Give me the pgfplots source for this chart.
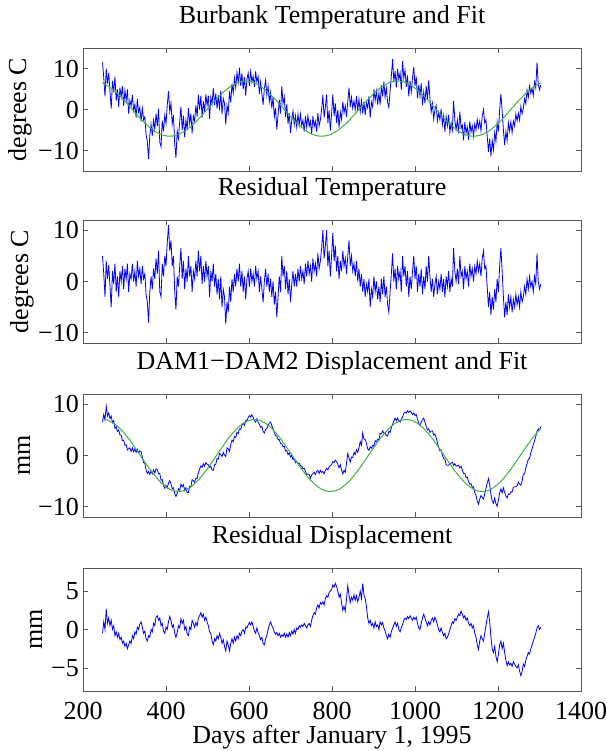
\documentclass[border=0pt]{standalone}
\usepackage{fontspec}
\setmainfont{Liberation Serif}
\usepackage{pgfplots}
\usepackage{pgfplotstable}
\pgfplotsset{compat=1.18}

\definecolor{fitgreen}{rgb}{0.25,0.70,0.25}
\definecolor{framegray}{gray}{0.35}

% day, temperature fit/residual/raw, displacement fit/residual/raw
\pgfplotstableread{
day fT rT aT fD rD aD
247 6.5 5.0 11.5 7.0 -0.5 6.5
250 6.3 1.5 7.8 7.0 1.0 8.0
253 6.2 -3.0 3.2 7.0 0.0 7.0
256 6.0 4.0 10.0 6.9 2.7 9.6
259 5.8 0.5 6.3 6.9 0.8 7.7
262 5.7 3.2 8.9 6.8 1.5 8.3
265 5.4 -1.0 4.4 6.7 0.5 7.2
268 5.2 -5.0 0.2 6.5 1.2 7.7
271 5.0 2.0 7.0 6.4 0.0 6.4
274 4.7 -0.5 4.2 6.3 0.5 6.8
277 4.5 3.5 8.0 6.1 -0.8 5.3
280 4.2 -2.0 2.2 5.9 -0.3 5.6
283 3.9 1.0 4.9 5.7 -1.0 4.7
286 3.6 -3.0 0.6 5.5 -0.5 5.0
289 3.3 2.0 5.3 5.3 -1.3 4.0
292 3.0 0.0 3.0 5.0 -1.0 4.0
295 2.7 3.0 5.7 4.7 -1.8 2.9
298 2.4 -1.5 0.9 4.5 -1.5 3.0
301 2.1 2.5 4.6 4.2 -2.2 2.0
304 1.7 0.5 2.2 3.9 -1.8 2.1
307 1.4 3.5 4.9 3.6 -2.5 1.1
310 1.0 -2.0 -1.0 3.3 -2.0 1.3
313 0.7 1.5 2.2 3.0 -1.5 1.5
316 0.4 0.5 0.9 2.6 -1.8 0.8
319 0.0 3.5 3.5 2.3 -0.8 1.5
322 -0.3 0.0 -0.3 1.9 -1.2 0.7
325 -0.7 2.0 1.3 1.6 -0.3 1.3
328 -1.0 -1.0 -2.0 1.2 -0.6 0.6
331 -1.4 4.0 2.6 0.9 0.3 1.2
334 -1.7 1.0 -0.7 0.5 0.0 0.5
337 -2.0 2.5 0.5 0.2 0.7 0.9
340 -2.4 -0.5 -2.9 -0.2 1.0 0.8
343 -2.7 3.0 0.3 -0.6 0.3 -0.3
346 -3.0 0.5 -2.5 -0.9 -0.5 -1.4
349 -3.3 1.5 -1.8 -1.3 -0.2 -1.5
352 -3.6 -2.5 -6.1 -1.6 -1.2 -2.8
355 -3.8 -4.0 -7.8 -2.0 -1.5 -3.5
358 -4.1 -8.0 -12.1 -2.3 -0.8 -3.1
361 -4.4 -2.0 -6.4 -2.7 -1.0 -3.7
364 -4.6 1.0 -3.6 -3.0 0.0 -3.0
367 -4.9 -1.5 -6.4 -3.3 -0.3 -3.6
370 -5.1 2.5 -2.6 -3.6 0.8 -2.8
373 -5.3 0.5 -4.8 -3.9 0.5 -3.4
376 -5.5 4.5 -1.0 -4.2 1.6 -2.6
379 -5.6 1.5 -4.1 -4.5 1.8 -2.7
382 -5.8 6.0 0.2 -4.8 1.2 -3.6
385 -6.0 -2.0 -8.0 -5.0 1.5 -3.5
388 -6.1 -3.0 -9.1 -5.3 0.5 -4.8
391 -6.2 3.5 -2.7 -5.5 0.8 -4.7
394 -6.3 1.0 -5.3 -5.7 -0.2 -5.9
397 -6.4 5.0 -1.4 -5.9 -0.5 -6.4
400 -6.4 3.0 -3.4 -6.1 0.3 -5.8
403 -6.5 7.5 1.0 -6.3 0.0 -6.3
406 -6.5 11.0 4.5 -6.4 1.0 -5.4
409 -6.5 6.0 -0.5 -6.6 1.7 -4.9
412 -6.5 8.0 1.5 -6.7 1.2 -5.5
415 -6.5 3.0 -3.5 -6.8 0.3 -6.5
418 -6.4 5.0 -1.4 -6.9 0.6 -6.3
421 -6.4 -2.0 -8.4 -6.9 -0.5 -7.4
424 -6.3 -5.5 -11.8 -7.0 -1.0 -8.0
427 -6.2 1.0 -5.2 -7.0 -0.4 -7.4
430 -6.1 -1.0 -7.1 -7.0 0.5 -6.5
433 -6.0 3.0 -3.0 -7.0 0.2 -6.8
436 -5.8 6.5 0.7 -7.0 1.4 -5.6
439 -5.6 0.5 -5.1 -6.9 0.8 -6.1
442 -5.5 4.0 -1.5 -6.9 1.2 -5.7
445 -5.3 -1.5 -6.8 -6.8 0.0 -6.8
448 -5.1 2.5 -2.6 -6.7 0.4 -6.3
451 -4.9 0.0 -4.9 -6.6 -0.6 -7.2
454 -4.6 5.0 0.4 -6.4 -0.8 -7.2
457 -4.4 1.0 -3.4 -6.3 0.3 -6.0
460 -4.1 3.0 -1.1 -6.1 0.0 -6.1
463 -3.8 -2.0 -5.8 -5.9 1.2 -4.7
466 -3.6 2.0 -1.6 -5.7 0.8 -4.9
469 -3.3 0.5 -2.8 -5.5 0.3 -5.2
472 -3.0 4.0 1.0 -5.3 0.9 -4.4
475 -2.7 1.0 -1.7 -5.0 0.5 -4.5
478 -2.4 6.0 3.6 -4.8 1.5 -3.3
481 -2.0 2.0 0.0 -4.5 1.8 -2.7
484 -1.7 5.0 3.3 -4.2 2.2 -2.0
487 -1.4 -0.5 -1.9 -3.9 1.6 -2.3
490 -1.0 3.0 2.0 -3.6 2.0 -1.6
493 -0.7 0.0 -0.7 -3.3 1.2 -2.1
496 -0.3 4.0 3.7 -3.0 1.6 -1.4
499 0.0 1.0 1.0 -2.7 1.0 -1.7
502 0.4 3.0 3.4 -2.3 0.5 -1.8
505 0.7 -3.0 -2.3 -2.0 -0.3 -2.3
508 1.0 2.0 3.0 -1.6 -0.5 -2.1
511 1.4 0.0 1.4 -1.3 -1.5 -2.8
514 1.7 3.5 5.2 -0.9 -2.0 -2.9
517 2.1 -1.0 1.1 -0.6 -1.2 -1.8
520 2.4 1.5 3.9 -0.2 -1.5 -1.7
523 2.7 -2.5 0.2 0.2 -0.8 -0.6
526 3.0 0.5 3.5 0.5 -1.2 -0.7
529 3.3 -3.5 -0.2 0.9 -0.5 0.4
532 3.6 1.0 4.6 1.2 -1.0 0.2
535 3.9 -5.0 -1.1 1.6 -1.8 -0.2
538 4.2 -1.5 2.7 1.9 -1.3 0.6
541 4.5 -3.0 1.5 2.3 -2.2 0.1
544 4.7 -8.3 -3.6 2.6 -2.8 -0.2
547 5.0 -4.0 1.0 3.0 -1.5 1.5
550 5.2 -6.0 -0.8 3.3 -2.0 1.3
553 5.4 -1.0 4.4 3.6 -2.8 0.8
556 5.7 -4.0 1.7 3.9 -1.8 2.1
559 5.8 0.5 6.3 4.2 -1.2 3.0
562 6.0 -2.0 4.0 4.5 -1.8 2.7
565 6.2 1.5 7.7 4.7 -1.0 3.7
568 6.3 -1.0 5.3 5.0 -1.5 3.5
571 6.5 2.5 9.0 5.3 -0.8 4.5
574 6.6 0.0 6.6 5.5 -1.2 4.3
577 6.7 3.5 10.2 5.7 -0.5 5.2
580 6.8 -1.0 5.8 5.9 -0.8 5.1
583 6.8 2.0 8.8 6.1 -0.2 5.9
586 6.9 -2.0 4.9 6.3 0.0 6.3
589 6.9 1.0 7.9 6.4 -0.5 5.9
592 6.9 -3.5 3.4 6.5 0.3 6.8
595 6.9 0.5 7.4 6.7 0.2 6.9
598 6.9 2.0 8.9 6.8 0.6 7.4
601 6.8 -1.0 5.8 6.9 0.9 7.8
604 6.8 2.5 9.3 6.9 0.6 7.5
607 6.7 0.0 6.7 7.0 1.0 8.0
610 6.6 1.5 8.1 7.0 0.4 7.4
613 6.5 -1.0 5.5 7.0 -0.2 6.8
616 6.3 3.0 9.3 7.0 -0.5 6.5
619 6.2 0.5 6.7 7.0 0.2 7.2
622 6.0 2.0 8.0 6.9 -0.4 6.5
625 5.8 -2.0 3.8 6.9 -0.8 6.1
628 5.7 1.0 6.7 6.8 -1.3 5.5
631 5.4 -1.5 3.9 6.7 -1.0 5.7
634 5.2 -4.0 1.2 6.5 -1.8 4.7
637 5.0 0.0 5.0 6.4 -2.0 4.4
640 4.7 2.5 7.2 6.3 -1.2 5.1
643 4.5 -1.0 3.5 6.1 -0.8 5.3
646 4.2 1.5 5.7 5.9 0.0 5.9
649 3.9 -2.0 1.9 5.7 0.6 6.3
652 3.6 0.5 4.1 5.5 1.0 6.5
655 3.3 -3.0 0.3 5.3 0.5 5.8
658 3.0 0.0 3.0 5.0 0.2 5.2
661 2.7 -4.5 -1.8 4.7 -0.3 4.4
664 2.4 -2.0 0.4 4.5 -0.6 3.9
667 2.1 -7.0 -4.9 4.2 -0.4 3.8
670 1.7 -3.0 -1.3 3.9 -0.8 3.1
673 1.4 1.0 2.4 3.6 -0.5 3.1
676 1.0 -2.0 -1.0 3.3 -1.0 2.3
679 0.7 5.0 5.7 3.0 -0.7 2.3
682 0.4 1.0 1.4 2.6 -0.9 1.7
685 0.0 3.0 3.0 2.3 -0.5 1.8
688 -0.3 -1.5 -1.8 1.9 -1.0 0.9
691 -0.7 2.0 1.3 1.6 -0.6 1.0
694 -1.0 -2.5 -3.5 1.2 -1.0 0.2
697 -1.4 0.5 -0.9 0.9 -0.4 0.5
700 -1.7 -4.0 -5.7 0.5 -0.8 -0.3
703 -2.0 -0.5 -2.5 0.2 -0.2 0.0
706 -2.4 2.0 -0.4 -0.2 -0.6 -0.8
709 -2.7 -1.0 -3.7 -0.6 0.0 -0.6
712 -3.0 1.5 -1.5 -0.9 -0.5 -1.4
715 -3.3 -1.0 -4.3 -1.3 0.2 -1.1
718 -3.6 2.5 -1.1 -1.6 0.0 -1.6
721 -3.8 0.0 -3.8 -2.0 0.5 -1.5
724 -4.1 3.0 -1.1 -2.3 0.3 -2.0
727 -4.4 0.5 -3.9 -2.7 0.6 -2.1
730 -4.6 2.0 -2.6 -3.0 0.4 -2.6
733 -4.9 -0.5 -5.4 -3.3 0.8 -2.5
736 -5.1 3.5 -1.6 -3.6 0.5 -3.1
739 -5.3 1.0 -4.3 -3.9 0.2 -3.7
742 -5.5 4.0 -1.5 -4.2 0.6 -3.6
745 -5.6 1.5 -4.1 -4.5 0.8 -3.7
748 -5.8 3.0 -2.8 -4.8 0.4 -4.4
751 -6.0 0.0 -6.0 -5.0 1.2 -3.8
754 -6.1 4.5 -1.6 -5.3 1.8 -3.5
757 -6.2 2.0 -4.2 -5.5 2.2 -3.3
760 -6.3 3.5 -2.8 -5.7 2.0 -3.7
763 -6.4 1.0 -5.4 -5.9 2.8 -3.1
766 -6.4 5.5 -0.9 -6.1 3.2 -2.9
769 -6.5 2.5 -4.0 -6.3 2.8 -3.5
772 -6.5 4.0 -2.5 -6.4 3.5 -2.9
775 -6.5 6.5 0.0 -6.6 3.3 -3.3
778 -6.5 10.0 3.5 -6.7 3.6 -3.1
781 -6.5 4.5 -2.0 -6.8 3.2 -3.6
784 -6.4 7.0 0.6 -6.9 4.0 -2.9
787 -6.4 10.0 3.6 -6.9 4.4 -2.5
790 -6.3 3.0 -3.3 -7.0 4.2 -2.8
793 -6.2 6.0 -0.2 -7.0 4.8 -2.2
796 -6.1 1.0 -5.1 -7.0 5.0 -2.0
799 -6.0 5.0 -1.0 -7.0 5.2 -1.8
802 -5.8 9.5 3.7 -7.0 5.8 -1.2
805 -5.6 4.0 -1.6 -6.9 5.5 -1.4
808 -5.5 7.0 1.5 -6.9 6.0 -0.9
811 -5.3 2.0 -3.3 -6.8 5.6 -1.2
814 -5.1 5.0 -0.1 -6.7 5.0 -1.7
817 -4.9 0.5 -4.4 -6.6 4.2 -2.4
820 -4.6 4.0 -0.6 -6.4 4.6 -1.8
823 -4.4 2.0 -2.4 -6.3 3.5 -2.8
826 -4.1 6.0 1.9 -6.1 2.5 -3.6
829 -3.8 3.0 -0.8 -5.9 3.0 -2.9
832 -3.6 4.5 0.9 -5.7 2.4 -3.3
835 -3.3 1.5 -1.8 -5.5 4.0 -1.5
838 -3.0 5.0 2.0 -5.3 5.7 0.4
841 -2.7 8.0 5.3 -5.0 4.5 -0.5
844 -2.4 3.0 0.6 -4.8 3.5 -1.3
847 -2.0 5.0 3.0 -4.5 4.2 -0.3
850 -1.7 2.0 0.3 -4.2 3.8 -0.4
853 -1.4 3.5 2.1 -3.9 4.5 0.6
856 -1.0 1.0 0.0 -3.6 3.8 0.2
859 -0.7 4.0 3.3 -3.3 4.4 1.1
862 -0.3 0.0 -0.3 -3.0 3.6 0.6
865 0.0 2.5 2.5 -2.7 4.2 1.5
868 0.4 -1.0 -0.6 -2.3 5.0 2.7
871 0.7 1.5 2.2 -2.0 4.0 2.0
874 1.0 -2.0 -1.0 -1.6 6.0 4.4
877 1.4 0.5 1.9 -1.3 4.5 3.2
880 1.7 -3.0 -1.3 -0.9 4.0 3.1
883 2.1 -0.5 1.6 -0.6 3.0 2.4
886 2.4 -2.0 0.4 -0.2 1.5 1.3
889 2.7 0.5 3.2 0.2 0.8 1.0
892 3.0 -5.0 -2.0 0.5 1.2 1.7
895 3.3 -1.5 1.8 0.9 0.5 1.4
898 3.6 -3.0 0.6 1.2 0.8 2.0
901 3.9 1.0 4.9 1.6 0.2 1.8
904 4.2 -2.0 2.2 1.9 1.0 2.9
907 4.5 0.0 4.5 2.3 0.4 2.7
910 4.7 -3.5 1.2 2.6 0.6 3.2
913 5.0 -1.0 4.0 3.0 0.0 3.0
916 5.2 -4.0 1.2 3.3 1.0 4.3
919 5.4 0.5 5.9 3.6 0.6 4.2
922 5.7 -2.5 3.2 3.9 0.9 4.8
925 5.8 1.0 6.8 4.2 0.2 4.4
928 6.0 -3.0 3.0 4.5 -0.2 4.3
931 6.2 -1.0 5.2 4.7 -0.8 3.9
934 6.3 -4.5 1.8 5.0 -1.2 3.8
937 6.5 -6.0 0.5 5.3 -0.6 4.7
940 6.6 -2.0 4.6 5.5 -1.0 4.5
943 6.7 1.5 8.2 5.7 -0.3 5.4
946 6.8 5.5 12.3 5.9 0.2 6.1
949 6.8 0.0 6.8 6.1 0.6 6.7
952 6.9 2.5 9.4 6.3 1.0 7.3
955 6.9 -1.5 5.4 6.4 0.4 6.8
958 6.9 3.0 9.9 6.5 0.8 7.3
961 6.9 0.5 7.4 6.7 0.0 6.7
964 6.9 2.0 8.9 6.8 -0.3 6.5
967 6.8 -2.0 4.8 6.9 0.2 7.1
970 6.8 5.0 11.8 6.9 0.6 7.5
973 6.7 1.0 7.7 7.0 1.2 8.2
976 6.6 3.0 9.6 7.0 1.5 8.5
979 6.5 -1.0 5.5 7.0 1.3 8.3
982 6.3 2.0 8.3 7.0 1.7 8.7
985 6.2 -3.0 3.2 7.0 1.4 8.4
988 6.0 1.0 7.0 6.9 1.8 8.7
991 5.8 -1.5 4.3 6.9 1.5 8.4
994 5.7 2.0 7.7 6.8 1.2 8.0
997 5.4 5.0 10.4 6.7 1.6 8.3
1000 5.2 0.5 5.7 6.5 1.3 7.8
1003 5.0 3.0 8.0 6.4 1.6 8.0
1006 4.7 -2.0 2.7 6.3 0.8 7.1
1009 4.5 1.5 6.0 6.1 0.2 6.3
1012 4.2 -1.0 3.2 5.9 0.0 5.9
1015 3.9 2.5 6.4 5.7 0.8 6.5
1018 3.6 -2.5 1.1 5.5 1.5 7.0
1021 3.3 1.0 4.3 5.3 2.0 7.3
1024 3.0 -1.5 1.5 5.0 1.5 6.5
1027 2.7 3.0 5.7 4.7 1.0 5.7
1030 2.4 0.0 2.4 4.5 0.5 5.0
1033 2.1 5.0 7.1 4.2 1.0 5.2
1036 1.7 1.0 2.7 3.9 0.6 4.5
1039 1.4 -2.0 -0.6 3.6 1.2 4.8
1042 1.0 0.5 1.5 3.3 1.5 4.8
1045 0.7 -3.0 -2.3 3.0 1.0 4.0
1048 0.4 -0.5 -0.1 2.6 1.6 4.2
1051 0.0 1.0 1.0 2.3 1.2 3.5
1054 -0.3 -2.5 -2.8 1.9 0.6 2.5
1057 -0.7 0.0 -0.7 1.6 0.0 1.6
1060 -1.0 -1.5 -2.5 1.2 -0.3 0.9
1063 -1.4 1.5 0.1 0.9 0.2 1.1
1066 -1.7 -2.0 -3.7 0.5 -0.4 0.1
1069 -2.0 0.5 -1.5 0.2 -0.8 -0.6
1072 -2.4 -3.0 -5.4 -0.2 -0.5 -0.7
1075 -2.7 1.0 -1.7 -0.6 -1.2 -1.8
1078 -3.0 -1.0 -4.0 -0.9 -1.0 -1.9
1081 -3.3 2.0 -1.3 -1.3 -0.6 -1.9
1084 -3.6 -2.0 -5.6 -1.6 0.0 -1.6
1087 -3.8 0.5 -3.3 -2.0 0.5 -1.5
1090 -4.1 -1.0 -5.1 -2.3 1.0 -1.3
1093 -4.4 6.5 2.1 -2.7 0.8 -1.9
1096 -4.6 2.0 -2.6 -3.0 1.4 -1.6
1099 -4.9 0.0 -4.9 -3.3 1.2 -2.1
1102 -5.1 2.5 -2.6 -3.6 1.6 -2.0
1105 -5.3 -0.5 -5.8 -3.9 2.0 -1.9
1108 -5.5 5.0 -0.5 -4.2 1.8 -2.4
1111 -5.6 1.0 -4.6 -4.5 2.4 -2.1
1114 -5.8 2.0 -3.8 -4.8 2.0 -2.8
1117 -6.0 -1.5 -7.5 -5.0 1.5 -3.5
1120 -6.1 3.0 -3.1 -5.3 1.8 -3.5
1123 -6.2 0.5 -5.7 -5.5 1.2 -4.3
1126 -6.3 2.0 -4.3 -5.7 1.5 -4.2
1129 -6.4 -1.0 -7.4 -5.9 0.8 -5.1
1132 -6.4 3.5 -2.9 -6.1 0.5 -5.6
1135 -6.5 1.0 -5.5 -6.3 0.8 -5.5
1138 -6.5 2.5 -4.0 -6.4 0.2 -6.2
1141 -6.5 0.0 -6.5 -6.6 0.5 -6.1
1144 -6.5 3.0 -3.5 -6.7 -0.5 -7.2
1147 -6.5 1.5 -5.0 -6.8 -1.0 -7.8
1150 -6.4 4.0 -2.4 -6.9 -2.0 -8.9
1153 -6.4 2.0 -4.4 -6.9 -2.6 -9.5
1156 -6.3 3.5 -2.8 -7.0 -1.5 -8.5
1159 -6.2 1.0 -5.2 -7.0 -0.8 -7.8
1162 -6.1 4.5 -1.6 -7.0 -1.2 -8.2
1165 -6.0 6.0 0.0 -7.0 -1.5 -8.5
1168 -5.8 2.5 -3.3 -7.0 -0.5 -7.5
1171 -5.6 3.0 -2.6 -6.9 0.5 -6.4
1174 -5.5 -1.0 -6.5 -6.9 1.5 -5.4
1177 -5.3 -5.0 -10.3 -6.8 2.3 -4.5
1180 -5.1 -2.0 -7.1 -6.7 1.0 -5.7
1183 -4.9 -6.5 -11.4 -6.6 -1.0 -7.6
1186 -4.6 -3.0 -7.6 -6.4 -2.5 -8.9
1189 -4.4 -5.5 -9.9 -6.3 -3.0 -9.3
1192 -4.1 -1.5 -5.6 -6.1 -2.2 -8.3
1195 -3.8 -4.0 -7.8 -5.9 -3.5 -9.4
1198 -3.6 0.5 -3.1 -5.7 -4.2 -9.9
1201 -3.3 -2.0 -5.3 -5.5 -3.2 -8.7
1204 -3.0 3.0 0.0 -5.3 -2.0 -7.3
1207 -2.7 6.5 3.8 -5.0 -1.5 -6.5
1210 -2.4 2.0 -0.4 -4.8 -2.5 -7.3
1213 -2.0 -3.0 -5.0 -4.5 -1.8 -6.3
1216 -1.7 -7.0 -8.7 -4.2 -3.0 -7.2
1219 -1.4 -4.0 -5.4 -3.9 -4.0 -7.9
1222 -1.0 -6.5 -7.5 -3.6 -4.7 -8.3
1225 -0.7 -2.5 -3.2 -3.3 -4.2 -7.5
1228 -0.3 -5.0 -5.3 -3.0 -4.6 -7.6
1231 0.0 -3.0 -3.0 -2.7 -4.4 -7.1
1234 0.4 -6.0 -5.6 -2.3 -4.8 -7.1
1237 0.7 -3.5 -2.8 -2.0 -4.2 -6.2
1240 1.0 -5.0 -4.0 -1.6 -4.5 -6.1
1243 1.4 -2.5 -1.1 -1.3 -4.8 -6.1
1246 1.7 -4.5 -2.8 -0.9 -5.0 -5.9
1249 2.1 -3.0 -0.9 -0.6 -4.6 -5.2
1252 2.4 -5.0 -2.6 -0.2 -5.4 -5.6
1255 2.7 -2.0 0.7 0.2 -6.0 -5.8
1258 3.0 -4.0 -1.0 0.5 -5.5 -5.0
1261 3.3 -3.0 0.3 0.9 -4.5 -3.6
1264 3.6 -1.0 2.6 1.2 -4.8 -3.6
1267 3.9 -2.5 1.4 1.6 -4.0 -2.4
1270 4.2 0.5 4.7 1.9 -3.5 -1.6
1273 4.5 -1.5 3.0 2.3 -3.0 -0.7
1276 4.7 1.0 5.7 2.6 -3.2 -0.6
1279 5.0 -1.0 4.0 3.0 -2.5 0.5
1282 5.2 0.0 5.2 3.3 -2.0 1.3
1285 5.4 -2.0 3.4 3.6 -1.5 2.1
1288 5.7 1.0 6.7 3.9 -1.0 2.9
1291 5.8 -0.5 5.3 4.2 -0.5 3.7
1294 6.0 5.5 11.5 4.5 0.2 4.7
1297 6.2 0.0 6.2 4.7 0.5 5.2
1300 6.3 -1.5 4.8 5.0 0.0 5.0
1303 6.5 -0.5 6.0 5.3 0.3 5.6
}\data

\pgfplotsset{
  panel/.style={
    scale only axis, width=498bp, height=123bp,
    xmin=200, xmax=1400,
    xtick={200,400,600,800,1000,1200,1400}, xticklabels={},
    tick align=inside, major tick length=5bp,
    axis line style={framegray, line width=0.7bp},
    tick style={framegray, line width=0.7bp},
    tick label style={font=\fontsize{26bp}{30bp}\selectfont},
    label style={font=\fontsize{26bp}{30bp}\selectfont},
    title style={font=\fontsize{26bp}{30bp}\selectfont,
                 at={(0.5,1)}, anchor=base, yshift=19bp, inner sep=0pt},
    yticklabel style={inner sep=0pt, xshift=-4bp},
    ylabel style={anchor=center, inner sep=0pt},
  },
  raw/.style={blue, line width=0.8bp},
  fit/.style={fitgreen, line width=1bp},
}

\begin{document}
\begin{tikzpicture}
\path[use as bounding box] (0,0) rectangle (607bp,-751bp);

\begin{axis}[panel, at={(83bp,-48bp)}, anchor=north west,
  ymin=-15, ymax=15, ytick={-10,0,10}, yticklabels={−10,0,10},
  title={Burbank Temperature and Fit}, ylabel={degrees C},
  ylabel style={at={(axis description cs:-0.1265,0.5)}}]
\addplot[raw] table[x=day, y=aT] {\data};
\addplot[fit] table[x=day, y=fT] {\data};
\end{axis}

\begin{axis}[panel, at={(83bp,-220bp)}, anchor=north west,
  ymin=-12, ymax=12, ytick={-10,0,10}, yticklabels={−10,0,10},
  title={Residual Temperature}, ylabel={degrees C},
  ylabel style={at={(axis description cs:-0.1225,0.5)}}]
\addplot[raw] table[x=day, y=rT] {\data};
\end{axis}

\begin{axis}[panel, at={(83bp,-394bp)}, anchor=north west,
  ymin=-12, ymax=12, ytick={-10,0,10}, yticklabels={−10,0,10},
  title={DAM1−DAM2 Displacement and Fit}, ylabel={mm},
  ylabel style={at={(axis description cs:-0.1185,0.5)}}]
\addplot[raw] table[x=day, y=aD] {\data};
\addplot[fit] table[x=day, y=fD] {\data};
\end{axis}

\begin{axis}[panel, at={(83bp,-568bp)}, anchor=north west,
  ymin=-8, ymax=8, ytick={-5,0,5}, yticklabels={−5,0,5},
  xticklabels={200,400,600,800,1000,1200,1400},
  xticklabel style={anchor=base, yshift=-28bp},
  title={Residual Displacement}, ylabel={mm},
  ylabel style={at={(axis description cs:-0.0944,0.5)}},
  xlabel={Days after January 1, 1995},
  xlabel style={at={(axis description cs:0.5,0)}, anchor=base,
                yshift=-52bp, inner sep=0pt}]
\addplot[raw] table[x=day, y=rD] {\data};
\end{axis}
\end{tikzpicture}
\end{document}
